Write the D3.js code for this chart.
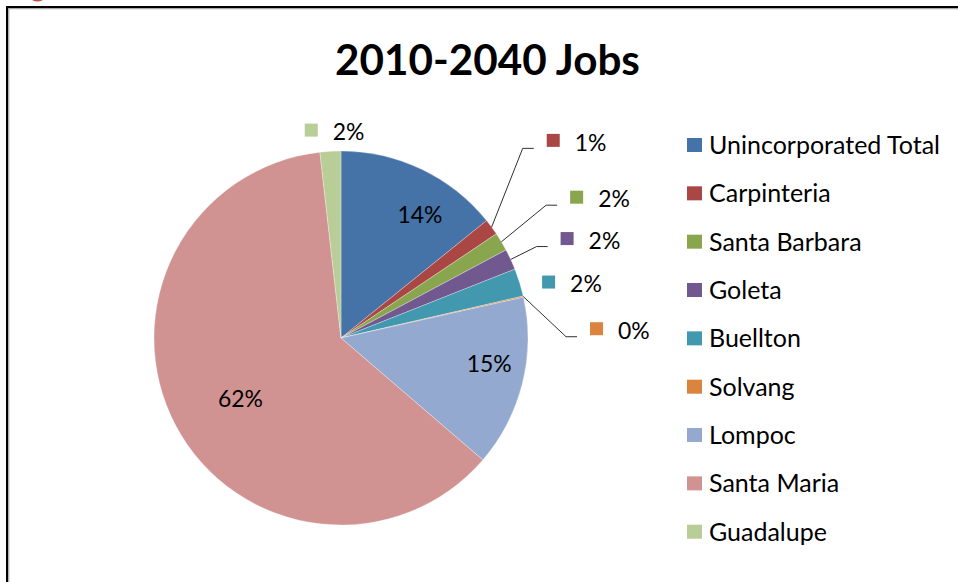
<!DOCTYPE html>
<html>
<head>
<meta charset="utf-8">
<script src="https://cdn.jsdelivr.net/npm/d3@7"></script>
<style>
  html, body { margin: 0; padding: 0; background: #fff; }
  svg { display: block; }
  text { font-family: Lato, "Open Sans", "DejaVu Sans", sans-serif; }
</style>
</head>
<body>
<svg id="chart" width="958" height="582"></svg>
<script>
// ---------- data ----------
const categories = ["Unincorporated Total", "Carpinteria", "Santa Barbara", "Goleta",
                    "Buellton", "Solvang", "Lompoc", "Santa Maria", "Guadalupe"];
const shares = [14.2, 1.4, 1.6, 1.8, 2.4, 0.1, 14.8, 61.9, 1.8];
const shareLabels = ["14%", "1%", "2%", "2%", "2%", "0%", "15%", "62%", "2%"];
const title = "2010-2040 Jobs";

// ---------- style / layout ----------
const colors = ["#4572A7", "#AA4643", "#89A54E", "#71588F", "#4198AF",
                "#DB843D", "#93A9CF", "#D19392", "#B9CD96"];
// label placement: angle shift (deg) from slice mid-angle, radius (px), outside?, leader?
const labelLayout = [
  { shift: 7.0,  r: 146.6, outside: false, leader: false },
  { shift: -6.6, r: 290,   outside: true,  leader: true  },
  { shift: 0.1,  r: 274.5, outside: true,  leader: true  },
  { shift: 1.1,  r: 247,   outside: true,  leader: true  },
  { shift: 2.2,  r: 215,   outside: true,  leader: false },
  { shift: 10.7, r: 255.7, outside: true,  leader: true  },
  { shift: -4.0, r: 150.5, outside: false, leader: false },
  { shift: -3.4, r: 117.7, outside: false, leader: false },
  { shift: -4.9, r: 210,   outside: true,  leader: false }
];
const W = 958, H = 582;
const cx = 341, cy = 338, R = 187;
const CAP = 0.717; // Lato cap-height ratio

const svg = d3.select("#chart");

// fit helper: set font-size so text width equals target
function fitSize(str, weight, target) {
  const t = svg.append("text").attr("font-size", 100).attr("font-weight", weight).text(str);
  const w = t.node().getComputedTextLength();
  t.remove();
  return 100 * target / w;
}
const titleSize = fitSize(title, 700, 305);
const legendSize = fitSize("Unincorporated Total", 400, 231);
const labelSize = fitSize("14%", 400, 45);

// ---------- frame ----------
// fragment of a heading above the frame (only a descender stroke is visible)
svg.append("path").attr("d", "M32,0 Q37,3.2 43,0 Z").attr("fill", "#C0504D");
svg.append("path").attr("d", `M7,${H} V7 H${W}`).attr("fill", "none")
  .attr("stroke", "#000").attr("stroke-width", 2);
svg.append("path").attr("d", `M8.7,${H} V8.7 H${W}`).attr("fill", "none")
  .attr("stroke", "#a8a8a8").attr("stroke-width", 1.2);

// ---------- title ----------
svg.append("text")
  .attr("x", 335).attr("y", 75)
  .attr("font-size", titleSize).attr("font-weight", 700).attr("fill", "#000")
  .text(title);

// ---------- pie ----------
const data = categories.map((c, i) => ({ name: c, v: shares[i], label: shareLabels[i], i }));
const pie = d3.pie().sort(null).value(d => d.v);
const arcs = pie(data);
const arc = d3.arc().innerRadius(0).outerRadius(R);

const g = svg.append("g").attr("transform", `translate(${cx},${cy})`);
g.selectAll("path.slice").data(arcs).join("path")
  .attr("class", "slice")
  .attr("d", arc)
  .attr("fill", d => colors[d.index])
  .attr("stroke", "#ffffff").attr("stroke-width", 0.6).attr("stroke-opacity", 0.5);

const pt = (a, r) => [r * Math.sin(a), -r * Math.cos(a)];
const capOff = labelSize * CAP / 2;

arcs.forEach(d => {
  const L = labelLayout[d.index];
  const mid = (d.startAngle + d.endAngle) / 2;
  const a = mid + L.shift * Math.PI / 180;
  const [x, y] = pt(a, L.r);
  if (!L.outside) {
    g.append("text").attr("x", x).attr("y", y + capOff)
      .attr("text-anchor", "middle").attr("font-size", labelSize).attr("fill", "#000")
      .text(d.data.label);
  } else {
    const sw = 13, left = x - sw / 2;
    if (L.leader) {
      const [rx, ry] = pt(mid, R);
      g.append("polyline")
        .attr("points", [[rx, ry], [left - 24, y + 8], [left - 13, y + 8]].map(p => p.join(",")).join(" "))
        .attr("fill", "none").attr("stroke", "#303030").attr("stroke-width", 1);
    }
    g.append("rect").attr("x", left).attr("y", y - sw / 2).attr("width", sw).attr("height", sw)
      .attr("fill", colors[d.index]);
    g.append("text").attr("x", left + 28).attr("y", y + 2 + capOff)
      .attr("font-size", labelSize).attr("fill", "#000")
      .text(d.data.label);
  }
});

// ---------- legend ----------
const ly = d3.scalePoint().domain(categories).range([145, 531.7]);
const legend = svg.append("g");
const items = legend.selectAll("g").data(categories).join("g")
  .attr("transform", d => `translate(0,${ly(d)})`);
items.append("rect").attr("x", 687).attr("y", -7).attr("width", 15).attr("height", 14)
  .attr("fill", (d, i) => colors[i]);
items.append("text").attr("x", 709).attr("y", legendSize * CAP / 2)
  .attr("font-size", legendSize).attr("fill", "#000")
  .text(d => d);
</script>
</body>
</html>
